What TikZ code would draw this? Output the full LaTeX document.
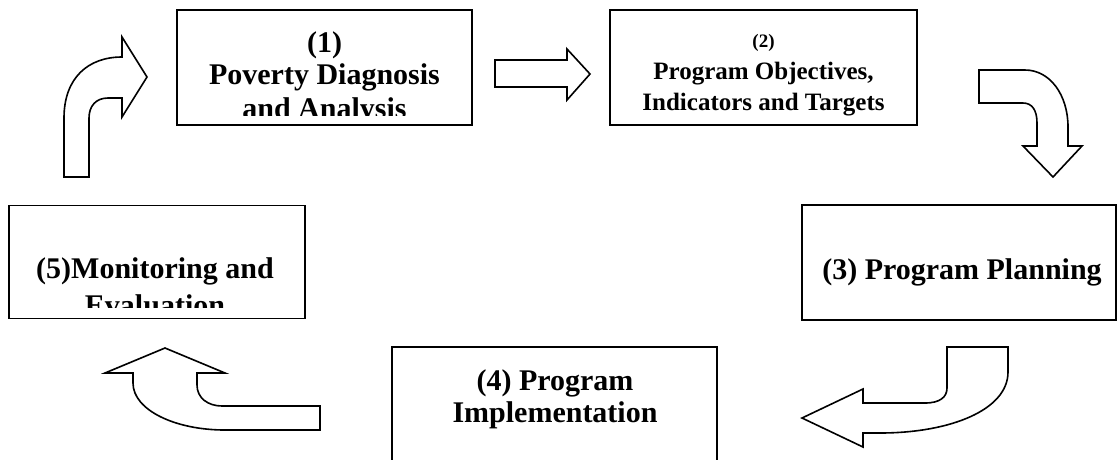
\documentclass[tikz,border=0pt]{standalone}
\usepackage{fontspec}
\setmainfont{Liberation Serif}
\begin{document}
\begin{tikzpicture}[x=1pt,y=-1pt,
  box/.style={draw=black,line width=1.7pt,inner sep=0pt},
  blockarrow/.style={draw=black,line width=1.6pt,fill=white,line join=miter},
  lbl/.style={anchor=base,inner sep=0pt,font=\bfseries\fontsize{30}{33}\selectfont},
  lblsmall/.style={anchor=base,inner sep=0pt,font=\bfseries\fontsize{25}{28}\selectfont},
  lbltiny/.style={anchor=base,inner sep=0pt,font=\bfseries\fontsize{19}{22}\selectfont}]
\clip (0,0) rectangle (1118,459);
\fill[white] (0,0) rectangle (1118,459);
% boxes
\node[box,minimum width=295pt,minimum height=115pt] (b1) at (324.5,67.5) {};
\node[box,minimum width=307pt,minimum height=115pt] (b2) at (763.5,67.5) {};
\node[box,minimum width=314pt,minimum height=115pt] (b3) at (959,262.5) {};
\node[box,minimum width=325pt,minimum height=140pt] (b4) at (554.5,417) {};
\node[box,minimum width=296pt,minimum height=113pt] (b5) at (157,262) {};
% texts
\begin{scope}
\clip (177,10) rectangle (472,115);
\node[lbl] (t1a) at (324.5,52) {(1)};
\node[lbl] (t1b) at (324.5,84) {Poverty Diagnosis};
\node[lbl] (t1c) at (324.5,118) {and Analysis};
\end{scope}
\node[lbltiny] (t2a) at (763.5,47) {(2)};
\node[lblsmall] (t2b) at (763.5,79) {Program Objectives,};
\node[lblsmall] (t2c) at (763.5,110) {Indicators and Targets};
\node[lbl] (t3) at (962,279) {(3) Program Planning};
\node[lbl] (t4a) at (555,390) {(4) Program};
\node[lbl] (t4b) at (555,422) {Implementation};
\begin{scope}
\clip (9,205) rectangle (305,307);
\node[lbl] (t5a) at (155,278) {(5)Monitoring and};
\node[lbl] (t5b) at (155,315) {Evaluation};
\end{scope}
% block arrows
\draw[blockarrow] (495,60) -- (567,60) -- (567,49) -- (590,74) -- (567,100) -- (567,87) -- (495,87) -- cycle;
\draw[blockarrow] (64,177) -- (64,118) .. controls (64,78) and (88,57) .. (122,57) -- (122,37) -- (147,77) -- (122,117) -- (122,98) -- (108,98) .. controls (96,98) and (89,106) .. (89,118) -- (89,177) -- cycle;
\draw[blockarrow] (979,70) -- (1025,70) .. controls (1050,70) and (1068,95) .. (1068,127) -- (1068,146) -- (1082,146) -- (1053,177) -- (1023,146) -- (1037,146) -- (1037,123) .. controls (1037,110) and (1032,103) .. (1023,103) -- (979,103) -- cycle;
\draw[blockarrow] (947,347) -- (1008,347) -- (1008,372) .. controls (1008,410) and (950,433) .. (880,433) -- (863,433) -- (863,447) -- (802,418) -- (863,389) -- (863,403) -- (925,403) .. controls (940,403) and (947,397) .. (947,388) -- cycle;
\draw[blockarrow] (320,406) -- (320,430) -- (225,430) .. controls (175,430) and (133,410) .. (133,383) -- (133,373) -- (105,373) -- (165,348) -- (225,373) -- (197,373) -- (197,385) .. controls (197,398) and (208,406) .. (222,406) -- cycle;
\end{tikzpicture}
\end{document}
